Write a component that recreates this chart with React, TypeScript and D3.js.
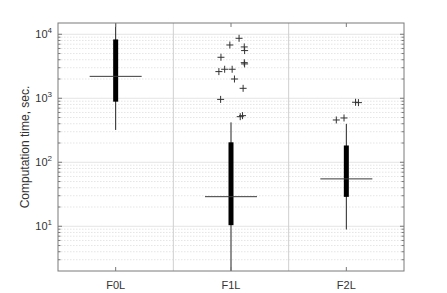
import React from "react";
import * as d3 from "d3";

// categories and box statistics (seconds)
const categories = ["F0L", "F1L", "F2L"];
const q1 = [885, 10.4, 28.8];
const medians = [2200, 29, 55];
const q3 = [8300, 205, 183];
const whiskerLow = [320, 1.5, 8.9];
const whiskerHigh = [16000, 420, 398];

// outliers: category index, value, horizontal jitter (fraction of band)
const outlierCat = [1, 1, 1, 1, 1, 1, 1, 1, 1, 1, 1, 1, 1, 1, 1, 2, 2, 2, 2];
const outlierVal = [8650, 6800, 6340, 5560, 4370, 3600, 3440, 2610, 2840, 2840, 2000, 1430, 960, 516, 535, 866, 855, 458, 492];
const outlierJitter = [0.07, -0.01, 0.115, 0.118, -0.087, 0.115, 0.118, -0.105, -0.055, 0.01, 0.03, 0.105, -0.09, 0.08, 0.1, 0.08, 0.105, -0.087, -0.02];

const yTicks = [10, 100, 1000, 10000];

const W = 447;
const H = 293;
const margin = { left: 58, right: 43, top: 23, bottom: 22 };

export default function App() {
  const x = d3
    .scaleBand()
    .domain(categories)
    .range([margin.left, W - margin.right])
    .padding(0);
  const y = d3
    .scaleLog()
    .domain([2.0, 15000])
    .range([H - margin.bottom, margin.top]);

  const minor: number[] = [];
  for (let e = 0; e <= 4; e++) {
    for (let k = 2; k <= 9; k++) {
      const v = k * Math.pow(10, e);
      if (v > 2.0 && v < 15000) minor.push(v);
    }
  }

  const cx = (i: number) => (x(categories[i]) as number) + x.bandwidth() / 2;
  const left = margin.left;
  const right = W - margin.right;
  const top = margin.top;
  const bottom = H - margin.bottom;
  const font = "'Liberation Sans', Arial, sans-serif";

  return (
    <svg width={W} height={H} style={{ position: "absolute", left: 0, top: 0 }}>
      <rect width={W} height={H} fill="#fff" />
      <defs>
        <clipPath id="plot">
          <rect x={left} y={top} width={right - left} height={bottom - top} />
        </clipPath>
      </defs>
      {/* minor grid */}
      {minor.map((v) => (
        <line key={"m" + v} x1={left} x2={right} y1={y(v)} y2={y(v)} stroke="#dedede" strokeWidth={0.8} strokeDasharray="1.5,1.5" />
      ))}
      {/* major grid */}
      {yTicks.map((v) => (
        <line key={"g" + v} x1={left} x2={right} y1={y(v)} y2={y(v)} stroke="#e4e4e4" strokeWidth={1} />
      ))}
      {/* group separators */}
      {[1, 2].map((i) => (
        <line key={"s" + i} x1={x(categories[i])} x2={x(categories[i])} y1={top} y2={bottom} stroke="#cfcfcf" strokeWidth={1} />
      ))}
      <g clipPath="url(#plot)">
        {categories.map((c, i) => (
          <g key={c}>
            <line x1={cx(i)} x2={cx(i)} y1={y(whiskerLow[i])} y2={y(whiskerHigh[i])} stroke="#222" strokeWidth={1} />
            <rect x={cx(i) - 2.5} width={5} y={y(q3[i])} height={y(q1[i]) - y(q3[i])} fill="#000" />
            <line x1={cx(i) - 26} x2={cx(i) + 26} y1={y(medians[i])} y2={y(medians[i])} stroke="#3a3a3a" strokeWidth={1} />
          </g>
        ))}
        {outlierVal.map((v, j) => {
          const px = cx(outlierCat[j]) + outlierJitter[j] * x.bandwidth();
          const py = y(v);
          return (
            <g key={"o" + j} stroke="#333" strokeWidth={1}>
              <line x1={px - 3.5} x2={px + 3.5} y1={py} y2={py} />
              <line x1={px} x2={px} y1={py - 3.5} y2={py + 3.5} />
            </g>
          );
        })}
      </g>
      {/* axes box */}
      <rect x={left} y={top} width={right - left} height={bottom - top} fill="none" stroke="#7a7a7a" strokeWidth={1} />
      {/* y ticks left & right */}
      {[...minor, ...yTicks].map((v) => {
        const len = yTicks.includes(v) ? 4 : 2.5;
        return (
          <g key={"t" + v} stroke="#7a7a7a" strokeWidth={1}>
            <line x1={left} x2={left + len} y1={y(v)} y2={y(v)} />
            <line x1={right} x2={right - len} y1={y(v)} y2={y(v)} />
          </g>
        );
      })}
      {/* x ticks bottom & top */}
      {categories.map((c, i) => (
        <g key={"xt" + c} stroke="#7a7a7a" strokeWidth={1}>
          <line x1={cx(i)} x2={cx(i)} y1={bottom} y2={bottom - 4} />
          <line x1={cx(i)} x2={cx(i)} y1={top} y2={top + 4} />
        </g>
      ))}
      {categories.map((c, i) => (
        <text key={"xl" + c} x={cx(i)} y={bottom + 18} textAnchor="middle" fontFamily={font} fontSize={11} fill="#333">
          {c}
        </text>
      ))}
      {yTicks.map((v) => (
        <text key={"yl" + v} x={left - 6} y={y(v) + 4} textAnchor="end" fontFamily={font} fontSize={11} fill="#333">
          10
          <tspan dy={-5} fontSize={8}>
            {Math.round(Math.log10(v))}
          </tspan>
        </text>
      ))}
      <text
        transform={`translate(29,${(top + bottom) / 2}) rotate(-90)`}
        textAnchor="middle"
        fontFamily={font}
        fontSize={12}
        fill="#333"
      >
        Computation time, sec.
      </text>
    </svg>
  );
}
